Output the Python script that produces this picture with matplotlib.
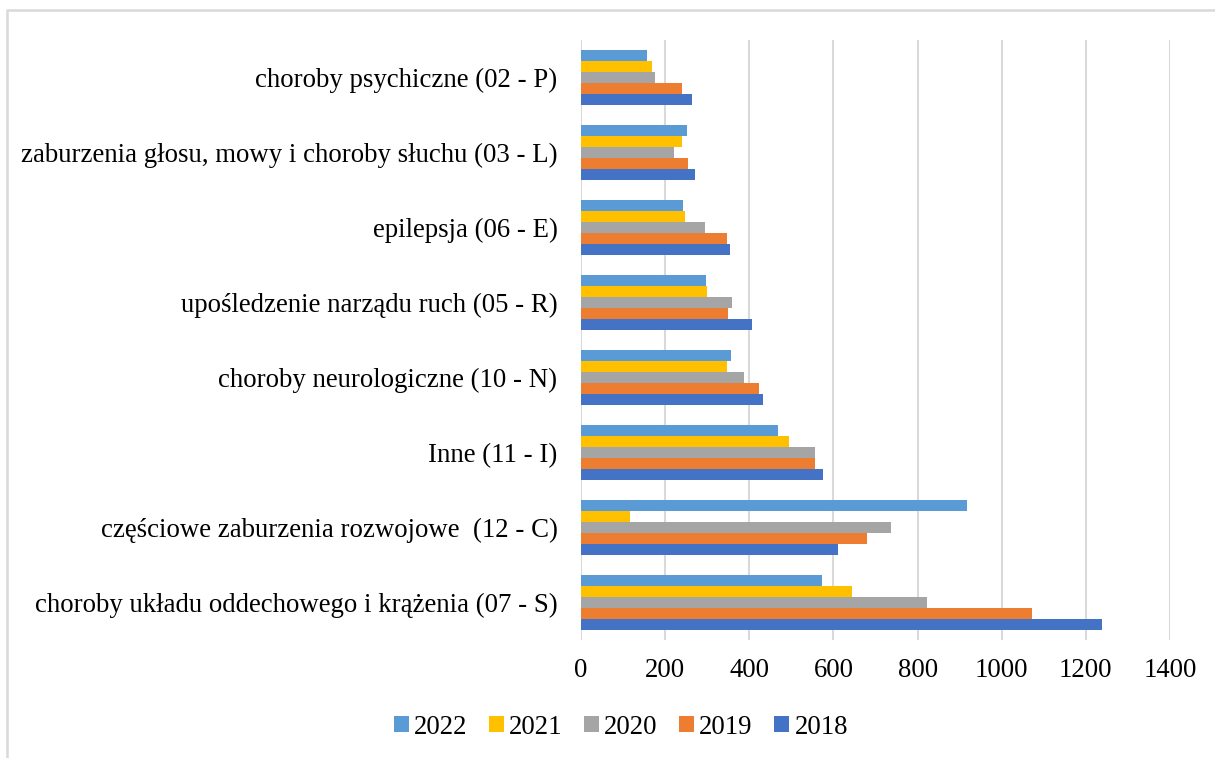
import matplotlib.pyplot as plt
from matplotlib.patches import Rectangle
import numpy as np

categories = [
    "choroby psychiczne (02 - P)",
    "zaburzenia głosu, mowy i choroby słuchu (03 - L)",
    "epilepsja (06 - E)",
    "upośledzenie narządu ruch (05 - R)",
    "choroby neurologiczne (10 - N)",
    "Inne (11 - I)",
    "częściowe zaburzenia rozwojowe  (12 - C)",
    "choroby układu oddechowego i krążenia (07 - S)",
]
years = ["2022", "2021", "2020", "2019", "2018"]
v2022 = [156, 253, 242, 296, 357, 468, 918, 573]
v2021 = [168, 241, 248, 300, 348, 495, 116, 645]
v2020 = [177, 220, 294, 359, 387, 557, 738, 823]
v2019 = [241, 254, 346, 349, 423, 556, 679, 1071]
v2018 = [265, 272, 353, 407, 432, 575, 612, 1239]
values = [v2022, v2021, v2020, v2019, v2018]
colors = ["#5B9BD5", "#FFC000", "#A5A5A5", "#ED7D31", "#4472C4"]

plt.rcParams['font.family'] = ['Liberation Serif', 'DejaVu Serif']

fig = plt.figure(figsize=(12.15, 7.58), dpi=100)
ax = fig.add_axes([581/1215, 1 - 640/758, (1170-581)/1215, 600/758])

y = np.arange(len(categories))
h = 0.1467
for i, (yr, vals, c) in enumerate(zip(years, values, colors)):
    offs = (i - 2) * h
    ax.barh(y + offs, vals, height=h, color=c, label=yr, zorder=3)

ax.set_xlim(0, 1400)
ax.set_ylim(len(categories) - 0.5, -0.5)
ax.set_xticks(range(0, 1401, 200))
ax.set_yticks(y)
ax.set_yticklabels(categories)
ax.tick_params(axis='both', length=0, labelsize=19.3, colors='black')
ax.tick_params(axis='y', pad=17)
ax.tick_params(axis='x', pad=13)
ax.grid(axis='x', color='#D9D9D9', linewidth=1.5, zorder=0)
for s in ax.spines.values():
    s.set_visible(False)

leg = fig.legend(loc='center', bbox_to_anchor=(621/1215, 1 - 727/758), ncol=5,
                 frameon=False, fontsize=19.3, handlelength=0.55, handleheight=0.55,
                 handletextpad=0.2, columnspacing=0.8)

fig.patches.append(Rectangle((7/1215, -0.05), 1.1, 1 - 10/758 + 0.05,
                             transform=fig.transFigure, fill=False,
                             edgecolor='#D9D9D9', linewidth=1.8))

fig.savefig("out.png", dpi=100)
